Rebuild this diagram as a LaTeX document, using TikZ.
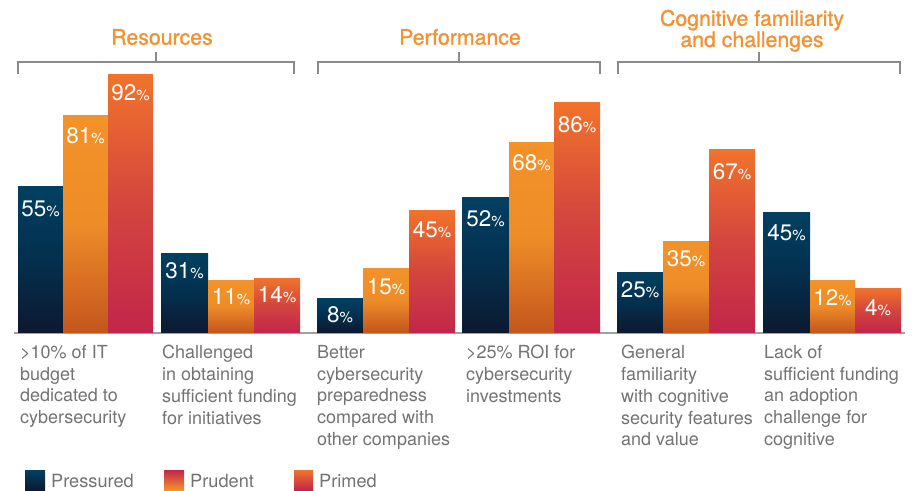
\documentclass[tikz,border=0pt]{standalone}
\usepackage{fontspec}
\setmainfont{TeX Gyre Heros}
\newfontfamily\headfont[FakeBold=1.2]{TeX Gyre Heros}
\definecolor{pTop}{RGB}{2,64,98}
\definecolor{pMid}{RGB}{3,48,78}
\definecolor{pBot}{RGB}{13,25,48}
\definecolor{oTop}{RGB}{243,146,41}
\definecolor{oMid}{RGB}{238,140,40}
\definecolor{oBot}{RGB}{196,86,30}
\definecolor{rTop}{RGB}{241,115,43}
\definecolor{rMid}{RGB}{212,70,62}
\definecolor{rBot}{RGB}{194,38,74}
\definecolor{headorange}{RGB}{243,146,51}
\definecolor{bracketgray}{RGB}{138,138,138}
\definecolor{axisgray}{RGB}{160,160,160}
\definecolor{labelgray}{RGB}{115,115,117}
\tikzset{
  pressured/.style={top color=pTop, bottom color=pBot, middle color=pMid},
  prudent/.style={top color=oTop, bottom color=oBot, middle color=oMid},
  primed/.style={top color=rTop, bottom color=rBot, middle color=rMid},
  pct/.style={text=white, inner sep=0pt, anchor=center},
  catlabel/.style={text=labelgray, inner sep=0pt, anchor=north west, align=left,
    font=\fontsize{18}{21.8}\selectfont},
  legtext/.style={text=labelgray, inner sep=0pt, anchor=base west,
    font=\fontsize{18.2}{21}\selectfont},
  heading/.style={text=headorange, inner sep=0pt, align=center,
    font={\headfont\fontsize{21.3}{19.5}\selectfont}},
  bracket/.style={draw=bracketgray, line width=1.3pt},
  axisline/.style={draw=axisgray, line width=2pt}
}
\newcommand\pctnum[1]{{\fontsize{22.5}{22}\selectfont #1}{\fontsize{15}{15}\selectfont\%}}
% style, x1, x2, top, label y, value, name
\newcommand\mybar[7]{%
  \path[#1] (#2,332) rectangle (#3,#4);
  \node[pct] (#7) at ({(#2+#3)/2},#5) {\pctnum{#6}};}
\begin{document}
\begin{tikzpicture}[x=1pt,y=-1pt]
\useasboundingbox[fill=white] (0,0) rectangle (913,490);

% headings
\node[heading] (hres) at (162,37) {Resources};
\node[heading] (hperf) at (460,37) {Performance};
\node[heading, anchor=north] (hcog) at (752,9.7) {Cognitive familiarity\\and challenges};

% brackets
\draw[bracket] (18,74) -- (18,62) -- (294,62) -- (294,74);
\draw[bracket] (156,62) -- (156,52);
\draw[bracket] (318,74) -- (318,62) -- (600,62) -- (600,74);
\draw[bracket] (459,62) -- (459,52);
\draw[bracket] (618,74) -- (618,62) -- (900,62) -- (900,74);
\draw[bracket] (759,62) -- (759,52);

% axis line
\draw[axisline] (14,333) -- (905,333);

% group 1
\mybar{pressured}{18}{63}{186}{209}{55}{a1}
\mybar{prudent}{63}{108}{115}{136}{81}{a2}
\mybar{primed}{108}{153}{74}{93}{92}{a3}
\mybar{pressured}{161}{208}{253}{271}{31}{b1}
\mybar{prudent}{208}{254}{280}{297}{11}{b2}
\mybar{primed}{254}{300}{278}{295}{14}{b3}
% group 2
\mybar{pressured}{317}{363}{298}{315}{8}{c1}
\mybar{prudent}{363}{409}{268}{287}{15}{c2}
\mybar{primed}{409}{455}{210}{230}{45}{c3}
\mybar{pressured}{462}{509}{197}{219}{52}{d1}
\mybar{prudent}{509}{554}{142}{163}{68}{d2}
\mybar{primed}{554}{600}{102}{125}{86}{d3}
% group 3
\mybar{pressured}{617}{663}{272}{290}{25}{e1}
\mybar{prudent}{663}{709}{241}{259}{35}{e2}
\mybar{primed}{709}{755}{149}{172}{67}{e3}
\mybar{pressured}{763}{810}{212}{233}{45}{f1}
\mybar{prudent}{810}{855}{280}{298}{12}{f2}
\mybar{primed}{855}{901}{288}{308}{4}{f3}

% category labels
\node[catlabel] (la) at (20,345) {>10\% of IT\\budget\\dedicated to\\cybersecurity};
\node[catlabel] (lb) at (162,345) {Challenged\\in obtaining\\sufficient funding\\for initiatives};
\node[catlabel] (lc) at (317,345) {Better\\cybersecurity\\preparedness\\compared with\\other companies};
\node[catlabel] (ld) at (466,345) {>25\% ROI for\\cybersecurity\\investments};
\node[catlabel] (le) at (621,345) {General\\familiarity\\with cognitive\\security features\\and value};
\node[catlabel] (lf) at (764,345) {Lack of\\sufficient funding\\an adoption\\challenge for\\cognitive};

% legend
\path[top color=pTop, bottom color=pBot] (25,470) rectangle (45,490);
\node[legtext] (lg1) at (51,487) {Pressured};
\path[top color=rBot, bottom color=oTop] (164,470) rectangle (184,490);
\node[legtext] (lg2) at (190,487) {Prudent};
\path[top color=rTop, bottom color=rBot] (294,470) rectangle (313,490);
\node[legtext] (lg3) at (319,487) {Primed};
\end{tikzpicture}
\end{document}
